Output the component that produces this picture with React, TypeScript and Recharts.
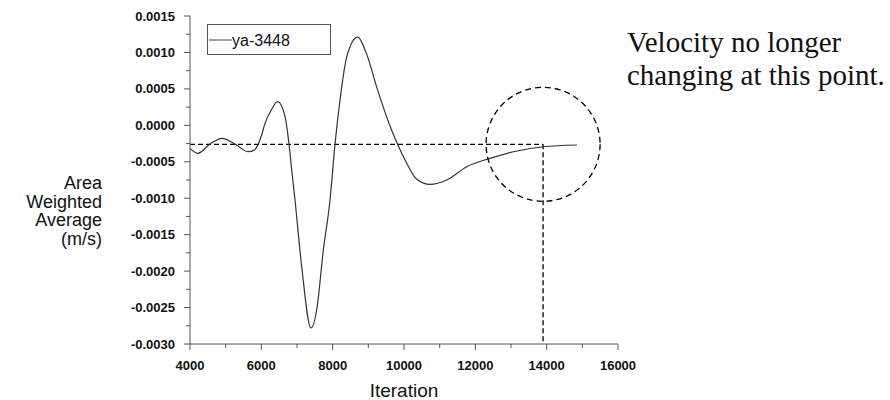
import { LineChart, Line, XAxis, YAxis, ReferenceLine, ReferenceDot, Legend } from "recharts";

// values
const iterations = [
  4000, 4216, 4561, 4906, 5262, 5635, 5800, 5915, 6010, 6103, 6290, 6459, 6664, 6776, 6852,
  6944, 7132, 7393, 7553, 7739, 7926, 8066, 8206, 8394, 8702, 8950, 9250, 9600, 9830,
  10077, 10357, 10730, 11198, 11759, 12412, 13066, 13907, 14850,
];
const velocity = [
  -0.000316, -0.000384, -0.000257, -0.000178, -0.000257, -0.000362, -0.00034, -0.000257,
  -0.00013, 0.000027, 0.00022, 0.000324, 0.000118, -0.000257, -0.000613, -0.001025,
  -0.00194, -0.00278, -0.00253, -0.00171, -0.001025, -0.000257, 0.000347, 0.00094,
  0.00121, 0.00098, 0.0005, 0.0, -0.00027, -0.00052, -0.00074, -0.00081, -0.00075,
  -0.000568, -0.000453, -0.000362, -0.000294, -0.00027,
];
const xTicks = [4000, 5000, 6000, 7000, 8000, 9000, 10000, 11000, 12000, 13000, 14000, 15000, 16000];
const yTicks = [
  -0.003, -0.00275, -0.0025, -0.00225, -0.002, -0.00175, -0.0015, -0.00125, -0.001,
  -0.00075, -0.0005, -0.00025, 0, 0.00025, 0.0005, 0.00075, 0.001, 0.00125, 0.0015,
];
const steadyIter = 13900;
const steadyValue = -0.00026;
const seriesName = "ya-3448";
const yTitle = ["Area", "Weighted", "Average", "(m/s)"];
const note = ["Velocity no longer", "changing at this point."];

const data = iterations.map((it, i) => ({ iteration: it, value: velocity[i] }));

const SANS = "Arial, 'Liberation Sans', sans-serif";
const SERIF = "'Liberation Serif', 'Times New Roman', Times, 'DejaVu Serif', serif";
const AXIS = "#555";

function YTick(props: any) {
  const { x, y, payload } = props;
  const v = payload.value as number;
  const major = Math.abs(Math.round(v / 0.0005) * 0.0005 - v) < 1e-9;
  return (
    <g>
      <line x1={x} x2={x - (major ? 6 : 4)} y1={y} y2={y} stroke={AXIS} />
      {major && (
        <text x={x - 15} y={y + 4.5} textAnchor="end" style={{ fontFamily: SANS }} fontSize={13} fontWeight="bold" fill="#111">
          {v.toFixed(4)}
        </text>
      )}
    </g>
  );
}

function XTick(props: any) {
  const { x, y, payload } = props;
  const v = payload.value as number;
  const major = v % 2000 === 0;
  return (
    <g>
      <line x1={x} x2={x} y1={y} y2={y + (major ? 6 : 4)} stroke={AXIS} />
      {major && (
        <text x={x} y={y + 25.5} textAnchor="middle" style={{ fontFamily: SANS }} fontSize={13} fontWeight="bold" fill="#111">
          {v}
        </text>
      )}
    </g>
  );
}

function LegendBox() {
  return (
    <svg width={124} height={31} style={{ display: "block" }}>
      <rect x={0.5} y={0.5} width={123} height={30} fill="#fff" stroke={AXIS} />
      <line x1={2} x2={25} y1={16} y2={16} stroke="#444" />
      <text x={25} y={21.5} style={{ fontFamily: SANS }} fontSize={16} fill="#111">
        {seriesName}
      </text>
    </svg>
  );
}

export default function App() {
  return (
    <div style={{ position: "absolute", left: 0, top: 0, width: 890, height: 400, background: "#fff" }}>
      <LineChart width={890} height={400} data={data} margin={{ top: 16, right: 272, bottom: 0, left: 0 }}>
        <XAxis
          dataKey="iteration"
          type="number"
          domain={[4000, 16000]}
          ticks={xTicks}
          interval={0}
          height={56}
          stroke={AXIS}
          tickLine={false}
          tickSize={0}
          tickMargin={0}
          tick={<XTick />}
          label={{
            content: ({ viewBox }: any) => (
              <text x={viewBox.x + viewBox.width / 2} y={viewBox.y + viewBox.height - 3} textAnchor="middle" style={{ fontFamily: SANS }} fontSize={19} fill="#111">
                Iteration
              </text>
            ),
          }}
        />
        <YAxis
          type="number"
          domain={[-0.003, 0.0015]}
          ticks={yTicks}
          interval={0}
          width={190}
          stroke={AXIS}
          tickLine={false}
          tickSize={0}
          tickMargin={0}
          tick={<YTick />}
          label={{
            content: () => (
              <text textAnchor="end" style={{ fontFamily: SANS }} fontSize={18} fill="#111">
                {yTitle.map((t, i) => (
                  <tspan key={t} x={102} y={189 + i * 18.5}>
                    {t}
                  </tspan>
                ))}
              </text>
            ),
          }}
        />
        <Legend
          layout="horizontal"
          verticalAlign="middle"
          align="center"
          content={() => <LegendBox />}
          wrapperStyle={{ left: 207, top: 24, width: 124, height: 31 }}
        />
        <ReferenceLine
          segment={[{ x: 4000, y: steadyValue }, { x: steadyIter, y: steadyValue }]}
          stroke="#000"
          strokeWidth={1.3}
          strokeDasharray="5 3"
        />
        <ReferenceLine
          segment={[{ x: steadyIter, y: steadyValue }, { x: steadyIter, y: -0.003 }]}
          stroke="#000"
          strokeWidth={1.3}
          strokeDasharray="5 3"
        />
        <ReferenceDot
          x={steadyIter}
          y={steadyValue}
          r={57}
          fill="none"
          stroke="#000"
          strokeWidth={1.3}
          strokeDasharray="6 4"
        />
        <Line
          type="monotone"
          dataKey="value"
          name={seriesName}
          stroke="#333"
          strokeWidth={1.2}
          dot={false}
          activeDot={false}
          isAnimationActive={false}
        />
      </LineChart>
      <div
        style={{
          position: "absolute",
          left: 627,
          top: 26,
          fontFamily: SERIF,
          fontSize: 29,
          lineHeight: "32.5px",
          color: "#111",
          whiteSpace: "nowrap",
        }}
      >
        {note.map((t) => (
          <div key={t}>{t}</div>
        ))}
      </div>
    </div>
  );
}
